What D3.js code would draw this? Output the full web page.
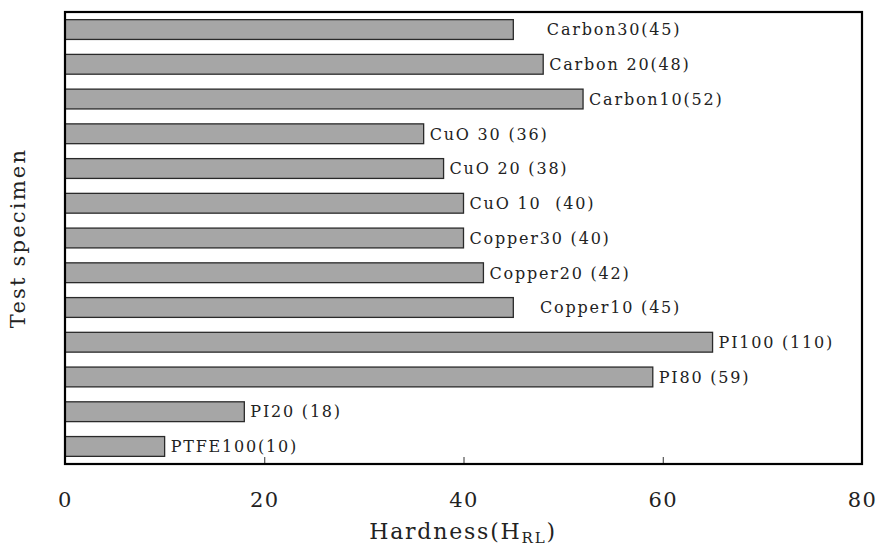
<!DOCTYPE html>
<html>
<head>
<meta charset="utf-8">
<script src="https://cdn.jsdelivr.net/npm/d3@7"></script>
<style>
  html, body { margin: 0; padding: 0; background: #fff; }
  svg text { font-family: "DejaVu Serif", "Liberation Serif", serif; fill: #222; }
</style>
</head>
<body>
<svg id="chart" width="878" height="550"></svg>
<script>
// Specimens, top to bottom
const specimens = ["Carbon30", "Carbon20", "Carbon10", "CuO30", "CuO20", "CuO10",
                   "Copper30", "Copper20", "Copper10", "PI100", "PI80", "PI20", "PTFE100"];
// Bar lengths (Rockwell L hardness)
const hardness = [45, 48, 52, 36, 38, 40, 40, 42, 45, 65, 59, 18, 10];
// Bar annotations as written on the chart
const barLabels = ["    Carbon30(45)", "Carbon 20(48)", "Carbon10(52)", "CuO 30 (36)", "CuO 20 (38)",
                   "CuO 10  (40)", "Copper30 (40)", "Copper20 (42)", "   Copper10 (45)",
                   "PI100 (110)", "PI80 (59)", "PI20 (18)", "PTFE100(10)"];
const xTicks = [0, 20, 40, 60, 80];

const svg = d3.select("#chart");
const m = { left: 65, right: 862, top: 12, bottom: 464 };

const x = d3.scaleLinear().domain([0, 80]).range([m.left, m.right]);
const y = d3.scaleBand().domain(specimens).range([m.top, m.bottom]).paddingInner(0.43).paddingOuter(0.22);

// Bars
svg.append("g").selectAll("rect")
  .data(specimens)
  .join("rect")
  .attr("x", x(0))
  .attr("y", d => y(d))
  .attr("width", (d, i) => x(hardness[i]) - x(0))
  .attr("height", y.bandwidth())
  .attr("fill", "#a6a6a6")
  .attr("stroke", "#2a2a2a")
  .attr("stroke-width", 1.3);

// Value annotations
svg.append("g").selectAll("text")
  .data(specimens)
  .join("text")
  .attr("x", (d, i) => x(hardness[i]) + 6)
  .attr("y", d => y(d) + y.bandwidth() / 2)
  .attr("dy", "0.36em")
  .attr("font-size", 16)
  .attr("letter-spacing", 1.8)
  .attr("fill", "#2a2a2a")
  .style("white-space", "pre")
  .attr("xml:space", "preserve")
  .text((d, i) => barLabels[i]);

// Bottom axis: ticks point inward
const xAxis = d3.axisBottom(x).tickValues(xTicks).tickSizeInner(-7).tickSizeOuter(0).tickPadding(24);
const gx = svg.append("g").attr("transform", `translate(0,${m.bottom})`).call(xAxis);
gx.select(".domain").remove();
gx.selectAll(".tick line").attr("stroke", "#333").attr("stroke-width", 1);
gx.selectAll(".tick text")
  .attr("font-size", 21)
  .attr("letter-spacing", 1.5)
  .attr("fill", "#222")
  .attr("dy", "0.9em");

// Plot frame
svg.append("rect")
  .attr("x", m.left).attr("y", m.top)
  .attr("width", m.right - m.left).attr("height", m.bottom - m.top)
  .attr("fill", "none").attr("stroke", "#000").attr("stroke-width", 2.2);

// Axis titles
const xt = svg.append("text")
  .attr("x", 463).attr("y", 539)
  .attr("text-anchor", "middle")
  .attr("font-size", 22)
  .attr("letter-spacing", 1.8);
xt.append("tspan").text("Hardness(H");
xt.append("tspan").attr("font-size", 15).attr("dy", 4).text("RL");
xt.append("tspan").attr("dy", -4).text(")");

svg.append("text")
  .attr("transform", `translate(25,${(m.top + m.bottom) / 2}) rotate(-90)`)
  .attr("text-anchor", "middle")
  .attr("font-size", 21)
  .attr("letter-spacing", 2.2)
  .text("Test specimen");
</script>
</body>
</html>
